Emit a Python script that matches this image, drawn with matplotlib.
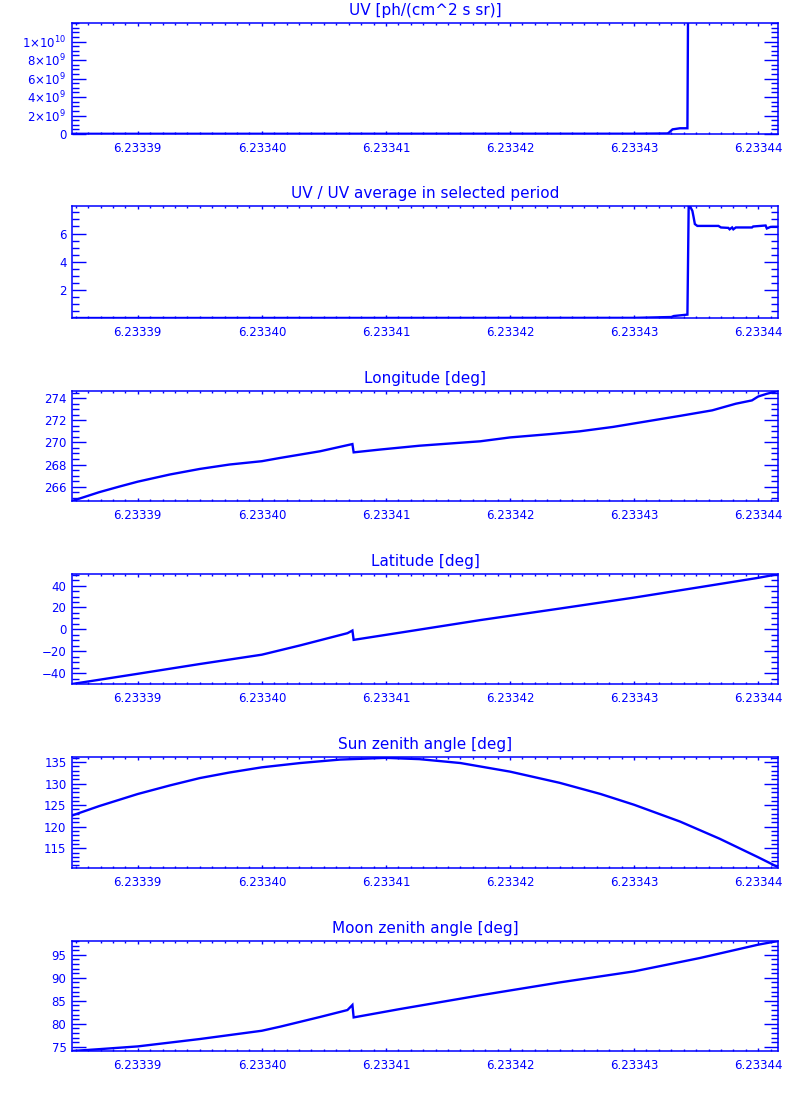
import matplotlib
matplotlib.use("Agg")
import matplotlib.pyplot as plt
from matplotlib.ticker import MultipleLocator, FixedLocator, FixedFormatter, FormatStrFormatter

# ---------------- data ----------------
titles = ["UV [ph/(cm^2 s sr)]", "UV / UV average in selected period",
          "Longitude [deg]", "Latitude [deg]",
          "Sun zenith angle [deg]", "Moon zenith angle [deg]"]

x_ticks = [6.23339, 6.23340, 6.23341, 6.23342, 6.23343, 6.23344]
x_range = (6.2333847, 6.2334416)

# UV (ph/(cm^2 s sr)), values in units of 1e9
uv_t = [6.2333847, 6.2334300, 6.2334327, 6.2334328, 6.2334331, 6.2334337,
        6.2334343, 6.2334344, 6.2334350, 6.2334416]
uv_v = [0.02, 0.03, 0.06, 0.14, 0.50, 0.62, 0.62, 26.0, 21.0, 21.0]
uv_ticks = [0, 2e9, 4e9, 6e9, 8e9, 1e10]
uv_labels = ["0", r"2$\times$10$^9$", r"4$\times$10$^9$", r"6$\times$10$^9$",
             r"8$\times$10$^9$", r"1$\times$10$^{10}$"]

# UV / UV average
ratio_t = [6.2333847, 6.2334300, 6.2334330, 6.2334332, 6.2334343, 6.2334344,
           6.2334345, 6.2334347, 6.2334348, 6.2334349, 6.2334351, 6.2334368,
           6.2334370, 6.2334376, 6.2334377, 6.2334379, 6.2334380, 6.2334382,
           6.2334395, 6.2334396, 6.2334406, 6.2334407, 6.2334410, 6.2334416]
ratio_v = [0.02, 0.03, 0.09, 0.16, 0.26, 7.9,
           7.95, 7.6, 7.15, 6.67, 6.54, 6.54,
           6.43, 6.40, 6.30, 6.43, 6.30, 6.43,
           6.43, 6.50, 6.57, 6.36, 6.47, 6.47]

# Longitude
lon_t = [6.2333847, 6.2333858, 6.2333869, 6.2333885, 6.2333900, 6.2333926,
         6.2333950, 6.2333974, 6.2334000, 6.2334015, 6.2334047, 6.2334071,
         6.2334073, 6.2334074, 6.2334095, 6.2334127, 6.2334176, 6.2334200,
         6.2334232, 6.2334256, 6.2334283, 6.2334310, 6.2334337, 6.2334363,
         6.2334382, 6.2334395, 6.2334400, 6.2334407, 6.2334416]
lon_v = [264.7, 265.1, 265.5, 266.0, 266.45, 267.1,
         267.6, 268.0, 268.3, 268.6, 269.2, 269.8,
         269.85, 269.1, 269.35, 269.7, 270.1, 270.45,
         270.75, 271.0, 271.4, 271.9, 272.4, 272.9,
         273.5, 273.8, 274.15, 274.4, 274.65]

# Latitude
lat_t = [6.2333847, 6.2333900, 6.2333950, 6.2334000, 6.2334031, 6.2334069,
         6.2334073, 6.2334074, 6.2334111, 6.2334176, 6.2334240, 6.2334300,
         6.2334353, 6.2334400, 6.2334416]
lat_v = [-49.7, -40.4, -31.5, -23.0, -14.5, -3.4,
         -1.0, -9.5, -3.0, 8.5, 19.0, 29.0,
         38.5, 47.0, 50.3]

# Sun zenith angle
sun_t = [6.2333847, 6.2333869, 6.2333900, 6.2333926, 6.2333950, 6.2333974,
         6.2334000, 6.2334031, 6.2334063, 6.2334100, 6.2334127, 6.2334160,
         6.2334200, 6.2334240, 6.2334273, 6.2334300, 6.2334337, 6.2334369,
         6.2334400, 6.2334416]
sun_v = [122.6, 124.8, 127.6, 129.6, 131.3, 132.6,
         133.8, 134.8, 135.6, 136.0, 135.7, 134.8,
         132.8, 130.2, 127.6, 125.1, 121.2, 117.2,
         112.9, 110.6]

# Moon zenith angle
moon_t = [6.2333847, 6.2333869, 6.2333900, 6.2333950, 6.2334000, 6.2334015,
          6.2334047, 6.2334069, 6.2334073, 6.2334074, 6.2334111, 6.2334176,
          6.2334240, 6.2334300, 6.2334353, 6.2334400, 6.2334416]
moon_v = [74.1, 74.5, 75.1, 76.7, 78.5, 79.4,
          81.5, 83.0, 84.1, 81.4, 83.2, 86.2,
          89.0, 91.4, 94.3, 97.2, 98.0]

# ---------------- plotting ----------------
BLUE = "#0000ff"
plt.rcParams["font.family"] = ["DejaVu Sans"]

fig = plt.figure(figsize=(8, 11), dpi=100)
W, H = 800.0, 1100.0
L, R = 72.0, 778.0
panel_px = [(23, 134), (206, 318), (391, 501), (574, 684), (757, 868), (941, 1051)]

series = [(uv_t, [v * 1e9 for v in uv_v]), (ratio_t, ratio_v), (lon_t, lon_v),
          (lat_t, lat_v), (sun_t, sun_v), (moon_t, moon_v)]
ylims = [(0, 1.2e10), (0.02, 7.95), (264.7, 274.65), (-49.7, 50.5),
         (110.4, 136.2), (74.1, 98.0)]
ymajor = [None, 2, 2, 20, 5, 5]
yminor = [0.5e9, 0.5, 0.5, 5, 1, 1]

for i, ((top, bot), (t, v)) in enumerate(zip(panel_px, series)):
    ax = fig.add_axes([L / W, 1 - bot / H, (R - L) / W, (bot - top) / H])
    ax.plot(t, v, color=BLUE, lw=1.7, solid_joinstyle="miter")
    ax.set_xlim(*x_range)
    ax.set_ylim(*ylims[i])
    ax.set_title(titles[i], color=BLUE, fontsize=11, pad=5.5)
    for s in ax.spines.values():
        s.set_color(BLUE)
        s.set_linewidth(1.1)
    ax.xaxis.set_major_locator(FixedLocator(x_ticks))
    ax.xaxis.set_major_formatter(FormatStrFormatter("%.5f"))
    ax.xaxis.set_minor_locator(MultipleLocator(1e-6))
    if i == 0:
        ax.yaxis.set_major_locator(FixedLocator(uv_ticks))
        ax.yaxis.set_major_formatter(FixedFormatter(uv_labels))
    else:
        ax.yaxis.set_major_locator(MultipleLocator(ymajor[i]))
    ax.yaxis.set_minor_locator(MultipleLocator(yminor[i]))
    ax.tick_params(axis="x", which="major", direction="in", length=2.0, width=1.0,
                   colors=BLUE, top=True, bottom=True, labelsize=8.5, pad=6)
    ax.tick_params(axis="x", which="minor", direction="in", length=1.2, width=1.0,
                   colors=BLUE, top=True, bottom=True)
    ax.tick_params(axis="y", which="major", direction="in", length=10, width=1.0,
                   colors=BLUE, left=True, right=True, labelsize=8.5, pad=4)
    ax.tick_params(axis="y", which="minor", direction="in", length=5, width=1.0,
                   colors=BLUE, left=True, right=True)

fig.savefig("out.png", dpi=100, facecolor="white")
